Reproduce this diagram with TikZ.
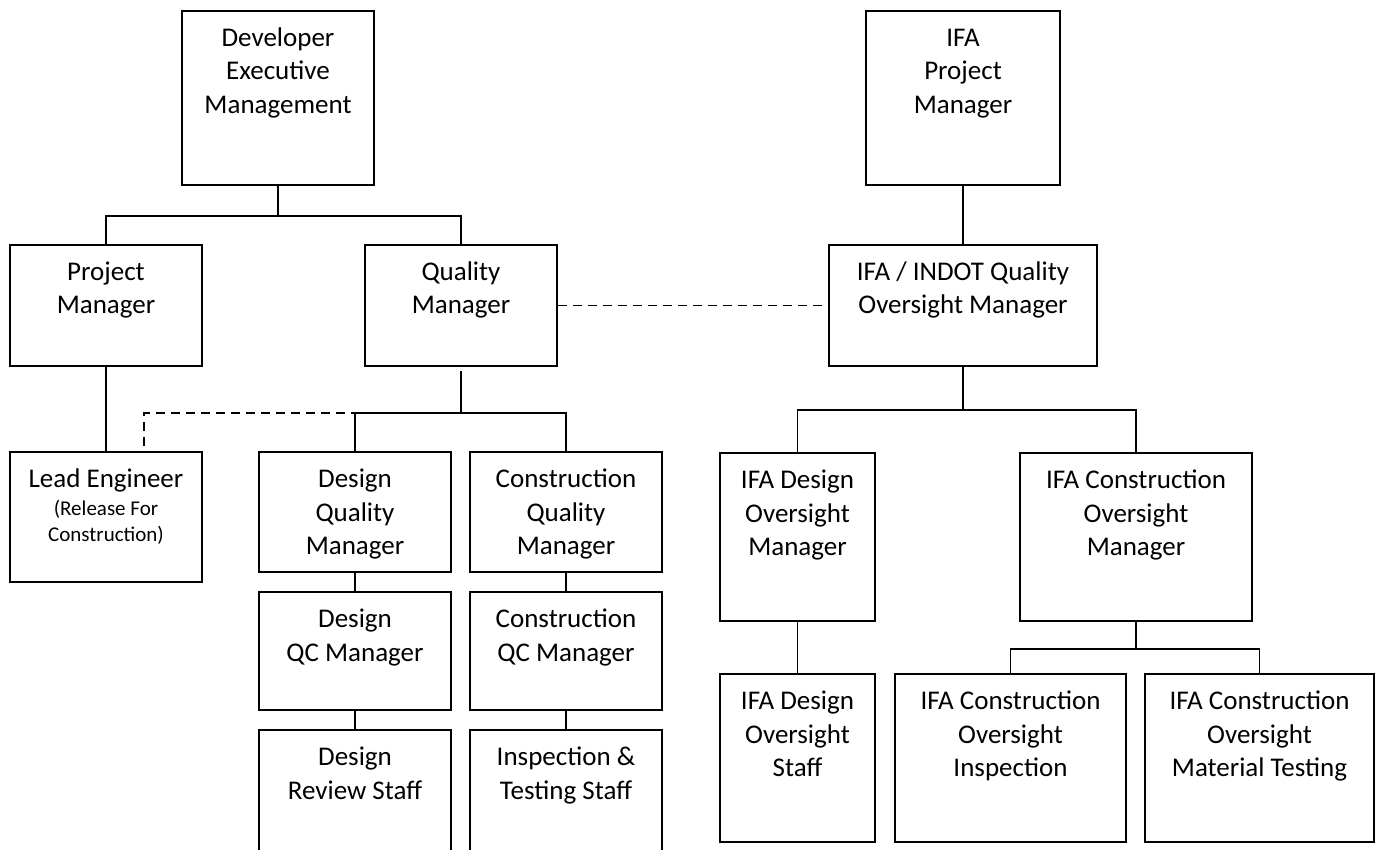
\documentclass[tikz,border=0pt]{standalone}
\usepackage{fontspec}
\setmainfont{Carlito}

\tikzset{
    orgbox/.style={draw, line width=2pt, inner sep=0pt, font=\fontsize{27}{33.5}\selectfont},
    link/.style={line width=1.6pt},
    dashlink/.style={line width=1.8pt, dash pattern=on 9pt off 6pt}
}
% top aligned text inside a box of given width and height
\newcommand{\boxlines}[3]{\parbox[c][#2][t]{#1}{\centering\rule{0pt}{35.5pt}#3}}

\begin{document}
\begin{tikzpicture}[x=1pt, y=-1pt]

    % Fix the page and cut off the bottom row on the left
    \useasboundingbox (0,0) rectangle (1376,850);
    \clip (0,0) rectangle (1376,850);

    % Draw the two top boxes
    \node[orgbox] (devexec) at (278,98) {\boxlines{192pt}{174pt}{Developer\\Executive\\Management}};
    \node[orgbox] (ifapm) at (963,98) {\boxlines{194pt}{174pt}{IFA\\Project\\Manager}};

    % Draw the second row
    \node[orgbox] (projmgr) at (106,305.5) {\boxlines{192pt}{121pt}{Project\\Manager}};
    \node[orgbox] (qualmgr) at (461,305.5) {\boxlines{192pt}{121pt}{Quality\\Manager}};
    \node[orgbox] (oversight) at (963,305.5) {\boxlines{268pt}{121pt}{IFA / INDOT Quality\\Oversight Manager}};

    % Draw the developer columns
    \node[orgbox] (leadeng) at (106,517) {\boxlines{192pt}{130pt}{Lead Engineer\par\vspace{1.5pt}{\fontsize{21}{26}\selectfont (Release For\\Construction)\par}}};
    \node[orgbox] (desqm) at (355,512) {\boxlines{192pt}{120pt}{Design\\Quality\\Manager}};
    \node[orgbox] (conqm) at (566,512) {\boxlines{192pt}{120pt}{Construction\\Quality\\Manager}};
    \node[orgbox] (desqc) at (355,651) {\boxlines{192pt}{118pt}{Design\\QC Manager}};
    \node[orgbox] (conqc) at (566,651) {\boxlines{192pt}{118pt}{Construction\\QC Manager}};
    \node[orgbox] (desstaff) at (355,800) {\boxlines{192pt}{140pt}{Design\\Review Staff}};
    \node[orgbox] (insstaff) at (566,800) {\boxlines{192pt}{140pt}{Inspection \&\\Testing Staff}};

    % Draw the IFA columns
    \node[orgbox] (ifades) at (797.5,537) {\boxlines{155pt}{168pt}{IFA Design\\Oversight\\Manager}};
    \node[orgbox] (ifacon) at (1136,537) {\boxlines{232pt}{168pt}{IFA Construction\\Oversight\\Manager}};
    \node[orgbox] (ifadesstaff) at (797.5,758) {\boxlines{155pt}{168pt}{IFA Design\\Oversight\\Staff}};
    \node[orgbox] (ifainsp) at (1010.5,758) {\boxlines{231pt}{168pt}{IFA Construction\\Oversight\\Inspection}};
    \node[orgbox] (ifamat) at (1259.5,758) {\boxlines{229pt}{168pt}{IFA Construction\\Oversight\\Material Testing}};

    % Connect the developer side
    \draw[link] (devexec.south) -- ++(0,30) coordinate (jdev);
    \draw[link] (projmgr.north) |- (jdev) -| (qualmgr.north);
    \draw[link] (projmgr.south) -- (leadeng.north);
    \draw[link] ([yshift=-4pt]qualmgr.south) -- ++(0,42) coordinate (jqual);
    \draw[link] (desqm.north) |- (jqual) -| (conqm.north);
    \draw[link] (desqm.south) -- (desqc.north);
    \draw[link] (desqc.south) -- (desstaff.north);
    \draw[link] (conqm.south) -- (conqc.north);
    \draw[link] (conqc.south) -- (insstaff.north);

    % Dashed link to the lead engineer
    \coordinate (ledash) at ([xshift=38pt,yshift=5pt]leadeng.north);
    \draw[dashlink] (ledash) |- (desqm.north |- jqual);

    % Connect the IFA side
    \draw[link] (ifapm.south) -- (oversight.north);
    \draw[link] (oversight.south) -- ++(0,43) coordinate (jover);
    \draw[link] (ifades.north) |- (jover) -| (ifacon.north);
    \draw[link] (ifades.south) -- (ifadesstaff.north);
    \draw[link] (ifacon.south) -- ++(0,27) coordinate (jcon);
    \draw[link] (ifainsp.north) |- (jcon) -| (ifamat.north);

    % Dashed link between the two quality managers
    \draw[dashlink] (qualmgr.east) -- (oversight.west);
\end{tikzpicture}
\end{document}
